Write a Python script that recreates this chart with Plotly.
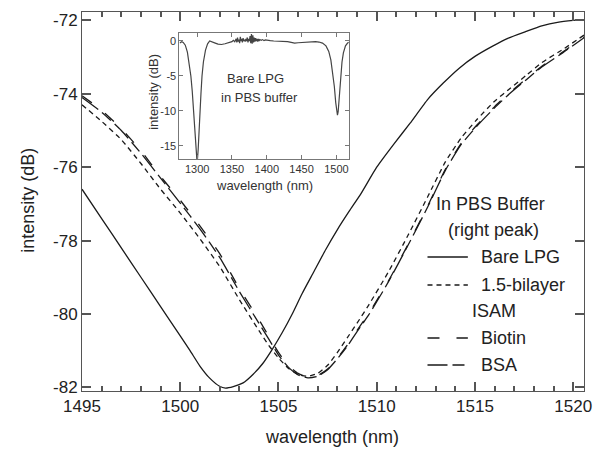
import plotly.graph_objects as go

# ---- main panel: right resonance peak (wavelength in nm, intensity in dB) ----
bare_wl = [1495.0, 1496.0, 1497.0, 1498.0, 1499.0, 1500.0, 1500.5, 1501.0, 1501.5, 1502.0,
           1502.3, 1502.7, 1503.2, 1503.7, 1504.2, 1504.7, 1505.2, 1505.7, 1506.2, 1506.8,
           1507.4, 1508.0, 1508.6, 1509.2, 1510.0, 1510.9, 1511.7, 1512.6, 1513.4, 1514.2,
           1515.0, 1515.9, 1516.7, 1517.6, 1518.4, 1519.2, 1520.0, 1520.55]
bare_db = [-76.6, -77.4, -78.2, -79.0, -79.8, -80.6, -81.0, -81.42, -81.75, -81.97,
           -82.02, -81.98, -81.88, -81.65, -81.35, -80.95, -80.5, -80.0, -79.45, -78.85,
           -78.25, -77.7, -77.2, -76.72, -76.0, -75.35, -74.8, -74.15, -73.7, -73.3,
           -72.98, -72.7, -72.48, -72.3, -72.15, -72.05, -72.0, -71.98]

coat_wl = [1495.0, 1496.0, 1497.0, 1498.0, 1499.0, 1500.0, 1501.0, 1502.0, 1503.0, 1504.0,
           1504.5, 1505.0, 1505.5, 1506.0, 1506.5, 1507.0, 1507.5, 1508.0, 1508.5, 1509.0,
           1509.6, 1510.6, 1511.6, 1512.6, 1513.5, 1514.3, 1515.1, 1516.0, 1516.8, 1517.6,
           1518.4, 1519.5, 1520.55]
bilayer_db = [-74.3, -74.75, -75.25, -75.9, -76.6, -77.25, -77.95, -78.7, -79.6, -80.45,
              -80.85, -81.2, -81.48, -81.65, -81.7, -81.62, -81.4, -81.05, -80.65, -80.25,
              -79.75, -78.85, -77.85, -76.8, -75.85, -75.2, -74.7, -74.2, -73.85, -73.5,
              -73.15, -72.78, -72.4]
biotin_db = [-74.05, -74.45, -74.95, -75.55, -76.25, -76.9, -77.6, -78.35, -79.3, -80.15,
             -80.6, -81.05, -81.4, -81.62, -81.72, -81.68, -81.5, -81.2, -80.85, -80.45,
             -79.98, -79.1, -78.1, -77.05, -76.05, -75.35, -74.85, -74.35, -73.95, -73.6,
             -73.25, -72.85, -72.45]
bsa_db = [-74.1, -74.5, -75.0, -75.62, -76.3, -76.98, -77.68, -78.45, -79.38, -80.25,
          -80.68, -81.12, -81.45, -81.66, -81.74, -81.7, -81.52, -81.22, -80.88, -80.48,
          -80.02, -79.12, -78.12, -77.08, -76.08, -75.38, -74.88, -74.38, -73.98, -73.62,
          -73.27, -72.87, -72.47]

y_ticks = [-82, -80, -78, -76, -74, -72]
y_tick_labels = ["-82", "-80", "-78", "-76", "-74", "-72"]

# ---- inset: full transmission spectrum of the bare grating ----
inset_wl = [1275, 1278, 1280, 1283, 1286, 1289, 1291, 1293, 1295, 1297, 1299, 1300, 1301.5,
            1303, 1304, 1305.5, 1307, 1309, 1312, 1315, 1318, 1322, 1326, 1330, 1335, 1340,
            1345, 1350, 1352, 1354, 1356, 1357, 1358, 1359, 1360, 1361, 1362, 1363, 1364,
            1365, 1366, 1367, 1368, 1369, 1370, 1371, 1372, 1373, 1374, 1375, 1376, 1377,
            1378, 1379, 1380, 1381, 1382, 1383, 1384, 1385, 1386, 1387, 1388, 1389, 1390,
            1392, 1394, 1396, 1398, 1400, 1405, 1410, 1415, 1420, 1425, 1430, 1435, 1440,
            1445, 1450, 1455, 1460, 1465, 1470, 1475, 1480, 1485, 1489, 1492, 1495, 1497,
            1499, 1500.5, 1501.5, 1502.5, 1504, 1506, 1508, 1510, 1513, 1516, 1518]
inset_db = [-0.3, -0.1, -0.2, -0.6, -1.6, -3.4, -5.0, -7.2, -10.0, -13.5, -17.0, -17.5, -15.5,
            -11.5, -10.0, -7.5, -5.0, -3.0, -1.3, -0.4, 0.0, -0.1, -0.3, -0.45, -0.5, -0.4,
            -0.2, -0.1, 0.1, -0.1, 0.3, -0.2, 0.5, -0.1, 0.2, -0.3, 0.6, 0.0, 0.3,
            -0.2, 0.4, 0.0, 0.2, -0.1, 0.3, 0.0, 0.5, -0.2, 0.3, 0.0, 0.7, -0.3,
            1.0, -0.4, 0.8, -0.2, 0.5, -0.1, 0.4, 0.0, 0.3, -0.1, 0.3, 0.0, 0.2,
            0.1, 0.2, 0.05, 0.15, 0.1, 0.05, 0.0, 0.0, -0.05, -0.1, -0.1, -0.2, -0.3,
            -0.25, -0.2, -0.15, -0.1, -0.1, -0.1, -0.15, -0.3, -0.7, -1.5, -2.7, -4.6, -6.5,
            -8.8, -10.2, -10.6, -10.1, -8.0, -5.2, -3.0, -1.7, -0.7, -0.3, -0.2]

inset_y_ticks = [0, -5, -10, -15]
inset_y_tick_labels = ["0", "-5", "-10", "-15"]

legend_names = ["Bare LPG", "1.5-bilayer", "Biotin", "BSA"]
legend_dashes = ["solid", "5px,4px", "12px,17px", "20px,5px,12px,5px"]

FONT = "Liberation Sans, Arial, sans-serif"
INK = "#1a1a1a"
AXIS = "#555555"
INSET = "#777777"
NOGRID = "rgba(0,0,0,0)"

W, H = 602, 458
ML, MR, MT, MB = 82, 10, 12, 67
PW, PH = W - ML - MR, H - MT - MB


def px(x):
    return (x - ML) / PW


def py(y):
    return (H - MB - y) / PH


fig = go.Figure()

series = [(bare_wl, bare_db), (coat_wl, bilayer_db), (coat_wl, biotin_db), (coat_wl, bsa_db)]
for (wl, db), name, dash in zip(series, legend_names, legend_dashes):
    fig.add_trace(go.Scatter(x=wl, y=db, mode="lines", name=name, showlegend=False,
                             line=dict(color=INK, width=1.3, dash=dash, shape="spline",
                                       smoothing=0.5)))

fig.add_trace(go.Scatter(x=inset_wl, y=inset_db, mode="lines", showlegend=False,
                         xaxis="x2", yaxis="y2",
                         line=dict(color="#444444", width=1.2)))

fig.update_layout(
    width=W, height=H,
    margin=dict(l=ML, r=MR, t=MT, b=MB),
    paper_bgcolor="white", plot_bgcolor="white",
    font=dict(family=FONT, color="#222222"),
    xaxis=dict(range=[1495, 1520.55], dtick=5, tick0=1495, gridcolor=NOGRID,
               zerolinecolor=NOGRID,
               showline=True, linecolor=AXIS, mirror="ticks",
               ticks="inside", ticklen=9, tickwidth=2, tickcolor=AXIS,
               minor=dict(ticks="inside", ticklen=5, dtick=1, tickcolor=AXIS),
               tickfont=dict(size=17, color="#222222")),
    yaxis=dict(range=[-82.1, -71.77], tickvals=y_ticks, ticktext=y_tick_labels,
               gridcolor=NOGRID, zerolinecolor=NOGRID,
               showline=True, linecolor=AXIS, mirror="ticks",
               ticks="inside", ticklen=9, tickwidth=2, tickcolor=AXIS,
               tickfont=dict(size=17, color="#222222")),
    xaxis2=dict(domain=[px(181), px(353)], anchor="y2", range=[1274.6, 1517.7],
                dtick=50, tick0=1300, gridcolor=NOGRID, zerolinecolor=NOGRID,
                showline=True, linecolor=INSET, mirror="ticks",
                ticks="inside", ticklen=4, tickwidth=1, tickcolor=INSET,
                tickfont=dict(size=11, color="#333333")),
    yaxis2=dict(domain=[py(159), py(33)], anchor="x2", range=[-16.86, 1.14],
                tickvals=inset_y_ticks, ticktext=inset_y_tick_labels,
                gridcolor=NOGRID, zerolinecolor=NOGRID,
                showline=True, linecolor=INSET, mirror="ticks",
                ticks="inside", ticklen=4, tickwidth=1, tickcolor=INSET,
                tickfont=dict(size=11, color="#333333")),
)

ann = []


def text(x, y, s, size, xanchor="center", angle=0, color="#222222"):
    ann.append(dict(x=px(x), y=py(y), xref="paper", yref="paper", text=s, showarrow=False,
                    xanchor=xanchor, yanchor="middle", textangle=angle,
                    font=dict(size=size, family=FONT, color=color)))


# axis titles
text(336, 437, "wavelength (nm)", 18)
text(27, 200, "intensity (dB)", 18, angle=-90)

# inset labels
text(267, 185, "wavelength (nm)", 13, color="#333333")
text(155, 92, "intensity (dB)", 13, angle=-90, color="#333333")
text(258, 78, "Bare LPG", 13, color="#333333")
text(262, 98, "in PBS buffer", 13, color="#333333")

# legend block
text(497, 204, "In PBS Buffer", 18)
text(500, 230, "(right peak)", 18)
text(501, 311, "ISAM", 18)
rows = [257, 285, 338, 365]
shapes = []
for name, dash, y in zip(legend_names, legend_dashes, rows):
    text(485, y, name, 18, xanchor="left")
    shapes.append(dict(type="line", xref="paper", yref="paper",
                       x0=px(433), x1=px(474), y0=py(y), y1=py(y),
                       line=dict(color=INK, width=1.3, dash=dash)))

fig.update_layout(annotations=ann, shapes=shapes)

fig.write_html("out.html")
